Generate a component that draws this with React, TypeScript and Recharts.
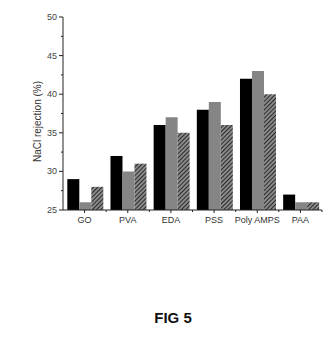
import { Bar, BarChart, XAxis, YAxis } from "recharts";

const CATEGORIES = ["GO", "PVA", "EDA", "PSS", "Poly AMPS", "PAA"];
const SERIES_A = [29, 32, 36, 38, 42, 27]; // black
const SERIES_B = [26, 30, 37, 39, 43, 26]; // gray
const SERIES_C = [28, 31, 35, 36, 40, 26]; // hatched
const Y_TICKS = [25, 27.5, 30, 32.5, 35, 37.5, 40, 42.5, 45, 47.5, 50];

const FONT = "'Liberation Sans', Arial, sans-serif";

const data = CATEGORIES.map((name, i) => ({
  name,
  a: SERIES_A[i],
  b: SERIES_B[i],
  c: SERIES_C[i],
}));

// tick x here is the axis line itself (tickSize / tickMargin are 0)
function YTick(props: any) {
  const { x, y, payload } = props;
  const major = payload.value % 5 === 0;
  return (
    <g>
      <line x1={x} x2={x - (major ? 4 : 2)} y1={y} y2={y} stroke="#222" strokeWidth={1} />
      {major && (
        <text x={x - 6} y={y} dy={3} textAnchor="end" fontSize={9} fill="#444" fontFamily={FONT}>
          {payload.value}
        </text>
      )}
    </g>
  );
}

// category tick + small minor ticks at the band edges
function XTick(props: any) {
  const { x, y, payload } = props;
  const half = payload.offset ?? 21.5;
  return (
    <g>
      <line x1={x} x2={x} y1={y} y2={y + 3} stroke="#222" />
      <line x1={x + half} x2={x + half} y1={y} y2={y + 2} stroke="#222" />
      <text x={x} y={y + 13} textAnchor="middle" fontSize={9} fill="#333" fontFamily={FONT}>
        {payload.value}
      </text>
    </g>
  );
}

function YLabel(props: any) {
  const { viewBox } = props;
  const cx = 37;
  const cy = viewBox.y + viewBox.height / 2 + 8;
  return (
    <text
      x={cx}
      y={cy}
      transform={`rotate(-90 ${cx} ${cy})`}
      textAnchor="middle"
      dominantBaseline="central"
      fontSize={10}
      fill="#333"
      fontFamily={FONT}
    >
      NaCl rejection (%)
    </text>
  );
}

export default function App() {
  return (
    <div style={{ position: "absolute", left: 0, top: 0, width: 330, height: 339, background: "#fff" }}>
      <BarChart
        width={330}
        height={232}
        data={data}
        margin={{ top: 17, right: 8, left: 0, bottom: 0 }}
        barCategoryGap="10%"
        barGap={0}
      >
        <defs>
          <pattern id="hatch" width={3} height={3} patternUnits="userSpaceOnUse" patternTransform="rotate(45)">
            <rect width={3} height={3} fill="#8a8a8a" />
            <line x1={0} y1={0} x2={0} y2={3} stroke="#111" strokeWidth={1.6} />
          </pattern>
        </defs>
        <XAxis
          dataKey="name"
          height={22}
          axisLine={{ stroke: "#222" }}
          tickLine={false}
          tickSize={0}
          tickMargin={0}
          tick={<XTick />}
          interval={0}
        />
        <YAxis
          width={63}
          domain={[25, 50]}
          ticks={Y_TICKS}
          interval={0}
          allowDataOverflow
          axisLine={{ stroke: "#222" }}
          tickLine={false}
          tickSize={0}
          tickMargin={0}
          tick={<YTick />}
          label={<YLabel />}
        />
        <Bar dataKey="a" fill="#000" isAnimationActive={false} />
        <Bar dataKey="b" fill="#858585" isAnimationActive={false} />
        <Bar dataKey="c" fill="url(#hatch)" isAnimationActive={false} />
      </BarChart>
      <div
        style={{
          position: "absolute",
          left: 0,
          top: 309,
          width: 346,
          textAlign: "center",
          fontFamily: FONT,
          fontWeight: "bold",
          fontSize: 15,
          color: "#111",
        }}
      >
        FIG 5
      </div>
    </div>
  );
}
